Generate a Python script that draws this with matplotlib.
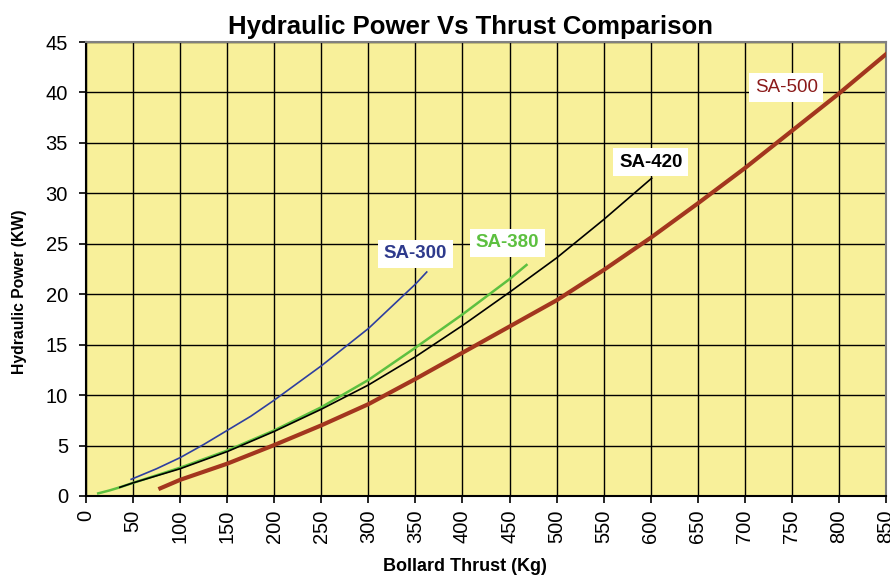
import matplotlib
matplotlib.use("Agg")
import matplotlib.pyplot as plt

plt.rcParams['font.family'] = ['Liberation Sans', 'DejaVu Sans']

# Data
sa300_x = [48, 75, 100, 125, 150, 175, 200, 250, 300, 350, 362]
sa300_y = [1.65, 2.7, 3.8, 5.1, 6.5, 7.9, 9.5, 12.9, 16.6, 21.0, 22.2]

sa380_x = [13, 25, 36, 50, 100, 150, 200, 250, 300, 350, 400, 450, 468]
sa380_y = [0.26, 0.55, 0.86, 1.3, 2.8, 4.5, 6.5, 8.8, 11.5, 14.7, 18.0, 21.5, 22.9]

sa420_x = [36, 50, 100, 150, 200, 250, 300, 350, 400, 450, 500, 550, 601]
sa420_y = [0.86, 1.3, 2.7, 4.4, 6.4, 8.6, 11.0, 13.8, 16.9, 20.2, 23.6, 27.4, 31.5]

sa500_x = [79, 100, 150, 200, 250, 300, 350, 400, 450, 500, 550, 600, 650, 700, 750, 800, 850]
sa500_y = [0.76, 1.6, 3.2, 5.05, 7.0, 9.1, 11.6, 14.2, 16.8, 19.4, 22.4, 25.6, 29.0, 32.5, 36.2, 39.9, 43.8]

x_ticks = list(range(0, 851, 50))
y_ticks = list(range(0, 46, 5))

fig = plt.figure(figsize=(8.9, 5.78), dpi=100)
ax = fig.add_axes([0.0966, 0.1419, 0.899, 0.7854])
ax.set_facecolor('#F8F09A')

ax.plot(sa500_x, sa500_y, color='#A3361E', lw=3.0, zorder=3)
ax.plot(sa420_x, sa420_y, color='#000000', lw=1.2, zorder=4)
ax.plot(sa380_x, sa380_y, color='#5DC040', lw=1.8, zorder=3.5)
ax.plot(sa300_x, sa300_y, color='#2E3FA0', lw=1.2, zorder=4)

ax.set_xlim(0, 850)
ax.set_ylim(0, 45)
ax.set_xticks(x_ticks)
ax.set_yticks(y_ticks)
ax.set_xticklabels([str(v) for v in x_ticks], rotation=90, fontsize=14.5)
ax.set_yticklabels([str(v) for v in y_ticks], fontsize=14.5)
ax.grid(True, color='black', lw=1.0)
ax.set_axisbelow(True)
ax.tick_params(direction='out', length=5, width=1.2, color='black')
ax.tick_params(axis='x', pad=5)
ax.tick_params(axis='y', pad=8)

for s in ['top', 'right']:
    ax.spines[s].set_color('#808080')
    ax.spines[s].set_linewidth(1.5)
for s in ['left', 'bottom']:
    ax.spines[s].set_color('black')
    ax.spines[s].set_linewidth(1.5)

ax.set_title('Hydraulic Power Vs Thrust Comparison', fontsize=18.5, fontweight='bold', pad=6, x=0.481)
ax.set_xlabel('Bollard Thrust (Kg)', fontsize=13, fontweight='bold')
ax.xaxis.set_label_coords(0.474, -0.137)
ax.set_ylabel('Hydraulic Power (KW)', fontsize=11.3, fontweight='bold')
ax.yaxis.set_label_coords(-0.074, 0.45)

box = dict(facecolor='white', edgecolor='none', pad=4)
ax.text(350, 24.0, 'SA-300', color='#2E3A8C', fontsize=13.5, fontweight='bold', ha='center', va='center', bbox=box, zorder=6)
ax.text(448, 25.1, 'SA-380', color='#5DC040', fontsize=13.5, fontweight='bold', ha='center', va='center', bbox=box, zorder=6)
ax.text(600, 33.1, 'SA-420', color='black', fontsize=13.5, fontweight='bold', ha='center', va='center', bbox=box, zorder=6)
ax.text(744, 40.5, 'SA-500', color='#8B1A1A', fontsize=13.5, ha='center', va='center', bbox=box, zorder=6)

fig.savefig('out.png', dpi=100, facecolor='white')
